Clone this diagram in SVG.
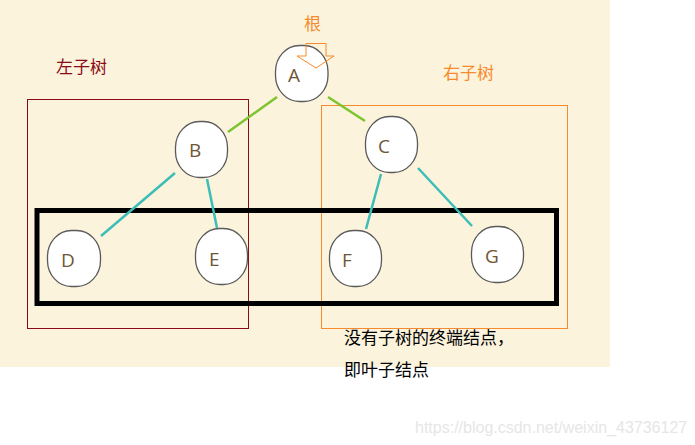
<svg xmlns="http://www.w3.org/2000/svg" width="695" height="445" viewBox="0 0 695 445">
<style>
.node{fill:#fff;stroke:#5a5a5a;stroke-width:1.3}
.lbl{font-family:"Open Sans","Noto Sans",sans-serif;font-size:19px;fill:#6e5637}
.cjk{font-family:"Noto Sans CJK SC",sans-serif;font-size:17px}
.g{stroke:#7dc42f;stroke-width:2.5}
.t{stroke:#3cbdb8;stroke-width:2.5}
</style>
<rect x="0" y="0" width="610" height="367" fill="#fcf3dc"/>
<rect x="27.5" y="99.5" width="221" height="229" fill="none" stroke="#8b0a1a" stroke-width="1"/>
<rect x="321.5" y="105.5" width="246" height="223" fill="none" stroke="#f58a2e" stroke-width="1"/>
<rect x="37" y="210.5" width="519.5" height="93" fill="none" stroke="#000" stroke-width="5"/>
<g id="connectors">
<line class="g" x1="228" y1="132" x2="277" y2="97"/>
<line class="g" x1="328" y1="97" x2="365" y2="121"/>
<line class="t" x1="175" y1="173" x2="101" y2="236"/>
<line class="t" x1="207" y1="179" x2="217" y2="228"/>
<line class="t" x1="381" y1="174" x2="366" y2="229"/>
<line class="t" x1="418" y1="168" x2="472" y2="226"/>
</g>
<g id="A"><rect class="node" x="275.5" y="45.5" width="52.5" height="56" rx="24" ry="26"/><text class="lbl" x="288" y="82">A</text></g>
<g id="B"><rect class="node" x="175.5" y="121.5" width="52" height="56" rx="24" ry="26"/><text class="lbl" x="189" y="157">B</text></g>
<g id="C"><rect class="node" x="365.5" y="116.5" width="52" height="56" rx="24" ry="26"/><text class="lbl" x="378" y="153">C</text></g>
<g id="D"><rect class="node" x="47.5" y="230.5" width="53" height="56" rx="24" ry="26"/><text class="lbl" x="61" y="267">D</text></g>
<g id="E"><rect class="node" x="195.5" y="228.5" width="52" height="56" rx="24" ry="26"/><text class="lbl" x="209" y="266">E</text></g>
<g id="F"><rect class="node" x="329.5" y="230.5" width="52" height="56" rx="24" ry="26"/><text class="lbl" x="342" y="267">F</text></g>
<g id="G"><rect class="node" x="471.5" y="226.5" width="52" height="56" rx="24" ry="26"/><text class="lbl" x="485" y="263">G</text></g>
<g id="root-arrow"><path d="M306 43.5 H326 V56 H334 L316 68 L297 56 H306 Z" fill="none" stroke="#f58a2e" stroke-width="1"/></g>
<text class="cjk" x="304" y="30" fill="#f58a2e">根</text>
<text class="cjk" x="56" y="73" fill="#8b0a1a" font-size="17.5">左子树</text>
<text class="cjk" x="443" y="79" fill="#f58a2e" font-size="17.5">右子树</text>
<text class="cjk" x="344" y="344" fill="#000">没有子树的终端结点，</text>
<text class="cjk" x="344" y="376" fill="#000">即叶子结点</text>
<text x="415" y="433" font-family="Liberation Sans,Arial,sans-serif" font-size="16" fill="#e6e6e6">https://blog.csdn.net/weixin_43736127</text>
</svg>
